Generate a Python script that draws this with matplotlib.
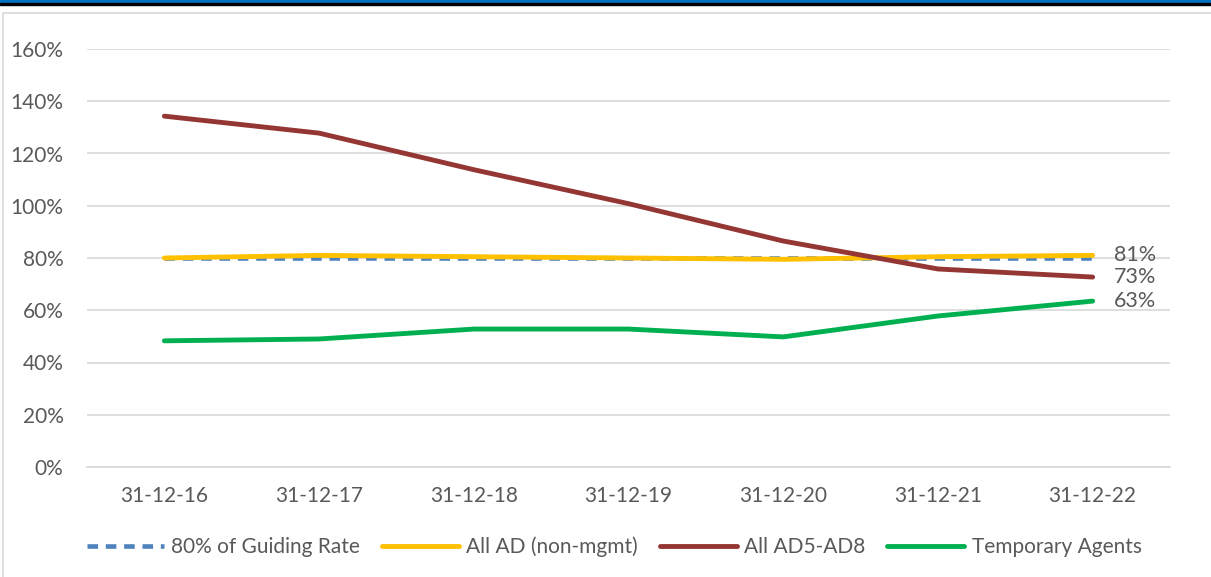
import matplotlib.pyplot as plt
from matplotlib.patches import Rectangle
from matplotlib.ticker import PercentFormatter

dates = ['31-12-16', '31-12-17', '31-12-18', '31-12-19', '31-12-20', '31-12-21', '31-12-22']
guiding = [80, 80, 80, 80, 80, 80, 80]
allAD = [80, 81, 80.5, 80, 79.5, 80.5, 81]
ad5to8 = [134.3, 127.8, 113.8, 100.8, 86.5, 75.8, 72.7]
temporary = [48.3, 49, 52.8, 52.8, 49.8, 57.8, 63.5]
endLabels = ['81%', '73%', '63%']

plt.rcParams['font.family'] = ['Lato', 'DejaVu Sans']
textColor = '#595959'

fig = plt.figure(figsize=(12.11, 5.77), dpi=100)
W, H = 1211, 577

# header bands and chart frame
fig.patches.append(Rectangle((0, 1 - 3 / H), 1, 3 / H, transform=fig.transFigure, color='#0070C0', zorder=0))
fig.patches.append(Rectangle((0, 1 - 5 / H), 1, 2.5 / H, transform=fig.transFigure, color='black', zorder=0))
fig.patches.append(Rectangle((3 / W, -0.01), 1.1, 1 - 13 / H + 0.01, transform=fig.transFigure,
                             fill=False, edgecolor='#D9D9D9', lw=1.2, zorder=0))

ax = fig.add_axes([87 / W, 1 - 467 / H, (1170 - 87) / W, (467 - 49) / H])
x = range(len(dates))
ax.plot(x, guiding, color='#4F81BD', lw=3.3, ls=(0, (2.3, 1.7)), label='80% of Guiding Rate', zorder=3)
ax.plot(x, allAD, color='#FFC000', lw=3.5, solid_capstyle='round', label='All AD (non-mgmt)', zorder=4)
ax.plot(x, ad5to8, color='#943634', lw=3.5, solid_capstyle='round', label='All AD5-AD8', zorder=4)
ax.plot(x, temporary, color='#00B050', lw=3.5, solid_capstyle='round', label='Temporary Agents', zorder=4)

last = len(dates) - 1
for val, lab in zip([allAD[-1], ad5to8[-1], temporary[-1]], endLabels):
    ax.text(last + 0.14, val, lab, color=textColor, fontsize=15.5, va='center', ha='left')

ax.set_xlim(-0.5, len(dates) - 0.5)
ax.set_ylim(0, 160)
ax.set_yticks(range(0, 161, 20))
ax.yaxis.set_major_formatter(PercentFormatter(decimals=0))
ax.set_xticks(list(x))
ax.set_xticklabels(dates)
ax.grid(axis='y', color='#D9D9D9', lw=1.2)
ax.set_axisbelow(True)
for s in ['top', 'right', 'left']:
    ax.spines[s].set_visible(False)
ax.spines['bottom'].set_color('#D9D9D9')
ax.spines['bottom'].set_linewidth(1.2)
ax.tick_params(axis='both', length=0, labelsize=15, colors=textColor)
ax.tick_params(axis='y', pad=17)
ax.tick_params(axis='x', pad=14)

leg = fig.legend(loc='center', bbox_to_anchor=(614 / W, 1 - 547 / H), ncol=4, frameon=False,
                 fontsize=15, handlelength=3.7, handletextpad=0.35, columnspacing=1.05)
for t in leg.get_texts():
    t.set_color(textColor)

fig.savefig('out.png', dpi=100)
